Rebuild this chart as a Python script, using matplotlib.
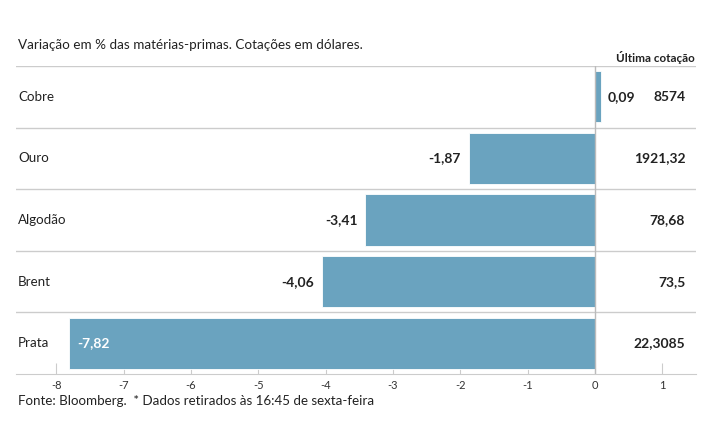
import matplotlib
matplotlib.use("Agg")
import matplotlib.pyplot as plt

plt.rcParams['font.family'] = ['Lato', 'DejaVu Sans']

names = ['Cobre', 'Ouro', 'Algodão', 'Brent', 'Prata']
changes = [0.09, -1.87, -3.41, -4.06, -7.82]
change_labels = ['0,09', '-1,87', '-3,41', '-4,06', '-7,82']
last_quote = ['8574', '1921,32', '78,68', '73,5', '22,3085']
xticks = [-8, -7, -6, -5, -4, -3, -2, -1, 0, 1]

bar_color = '#6aa3bf'
grid_color = '#cccccc'
text_color = '#222222'

fig = plt.figure(figsize=(7.15, 4.45), dpi=100)
ax = fig.add_axes([16 / 715, 1 - 374 / 445, 680 / 715, 308 / 445])

rows = list(range(len(names)))
ax.barh(rows, changes, height=0.83, color=bar_color, edgecolor='white', linewidth=0.6, zorder=2)
ax.set_xlim(-8.60, 1.50)
ax.set_ylim(len(names) - 0.5, -0.5)

# row separators
for r in range(len(names)):
    ax.axhline(r - 0.5, color=grid_color, lw=1, zorder=1)
ax.axvline(0, color='#bbbbbb', lw=1, zorder=3)

for r, (n, v, lab, q) in enumerate(zip(names, changes, change_labels, last_quote)):
    ax.text(-8.57, r, n, ha='left', va='center', fontsize=9.6, color=text_color)
    if v >= 0:
        ax.text(v + 0.1, r, lab, ha='left', va='center', fontsize=10,
                fontweight='bold', color=text_color)
    elif v < -7:
        ax.text(v + 0.13, r, lab, ha='left', va='center', fontsize=10,
                fontweight='bold', color='white', zorder=4)
    else:
        ax.text(v - 0.12, r, lab, ha='right', va='center', fontsize=10,
                fontweight='bold', color=text_color)
    ax.text(1.34, r, q, ha='right', va='center', fontsize=10,
            fontweight='bold', color=text_color)

ax.set_xticks(xticks)
ax.set_xticklabels([str(t) for t in xticks], fontsize=8, color='#333333')
ax.set_yticks([])
for s in ['top', 'left', 'right']:
    ax.spines[s].set_visible(False)
ax.spines['bottom'].set_color(grid_color)
ax.tick_params(axis='x', direction='in', length=8, color=grid_color, pad=4)

fig.text(18 / 715, 1 - 45 / 445, 'Variação em % das matérias-primas. Cotações em dólares.',
         ha='left', va='center', fontsize=9.7, color=text_color)
fig.text(695 / 715, 1 - 57 / 445, 'Última cotação', ha='right', va='center',
         fontsize=8.4, fontweight='bold', color=text_color)
fig.text(18 / 715, 1 - 401 / 445, 'Fonte: Bloomberg.  * Dados retirados às 16:45 de sexta-feira',
         ha='left', va='center', fontsize=9.6, color=text_color)

fig.savefig('out.png', dpi=100)
